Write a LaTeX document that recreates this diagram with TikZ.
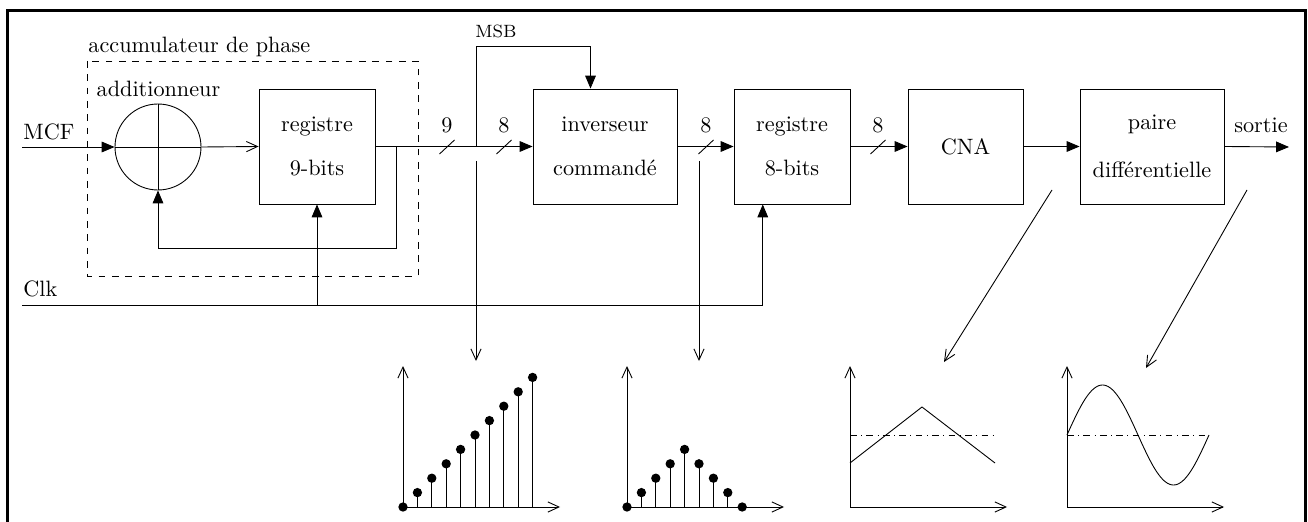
\documentclass[tikz,border=0pt]{standalone}
\usetikzlibrary{arrows.meta,calc}

% petite barre oblique sur un bus
\newcommand{\barre}[1]{\draw (#1-7.5,154) -- (#1+7.5,140);}

\begin{document}
\begin{tikzpicture}[x=0.45pt,y=-0.45pt,
  boite/.style={draw,minimum height=51.75pt,inner sep=0pt,align=center},
  fleche/.style={-{Triangle[length=5.8pt,width=4.8pt]}},
  ouvert/.style={-{Straight Barb[length=5pt,width=4.6pt]}},
  texte/.style={inner sep=0pt,anchor=base west}]
\useasboundingbox (0,0) rectangle (1308,522);
%cadre
\draw[line width=1.35pt] (7,526) -- (7,10.5) -- (1305,10.5) -- (1305,526);

%accumulateur de phase
\draw[dashed] (87,61) rectangle (418,276);
\node[texte] (acc) at (88,53) {accumulateur de phase};
\node[draw,circle,minimum size=38.7pt,inner sep=0pt] (add) at (158,147) {};
\draw (add.north) -- (add.south) (add.west) -- (add.east);
\node[inner sep=0pt,anchor=base] (ladd) at (158.5,97) {additionneur};
\node[boite,minimum width=52.2pt] (reg9) at (317,146.5) {registre\\[7.8pt]9-bits};

%blocs de la chaine
\node[boite,minimum width=64.8pt] (inv) at (605,146.5) {inverseur\\[7.8pt]command\'e};
\node[boite,minimum width=52.2pt] (reg8) at (792,146.5) {registre\\[7.8pt]8-bits};
\node[boite,minimum width=51.75pt] (cna) at (965.5,146.5) {CNA};
\node[boite,minimum width=64.8pt] (paire) at (1152,146.5) {paire\\[9.5pt]diff\'erentielle};

%entrees
\coordinate (mcf) at (22,147);
\node[texte] (lmcf) at (23,140) {MCF};
\draw[fleche] (mcf) -- (add.west);
\draw[ouvert] (add.east) -- (reg9.west);
\draw[fleche] (396,147) -- (396,248) -| (add.south);
\coordinate (clk) at (22,305);
\node[texte] (lclk) at (23,297) {Clk};
\draw[fleche] (clk) -| ($(reg8.south west)!.25!(reg8.south east)$);
\draw[fleche] (reg9.south |- clk) -- (reg9.south);

%bus
\draw[fleche] (reg9.east) -- (inv.west);
\barre{447} \barre{504}
\node[anchor=base] (n9) at (447,133) {9};
\node[anchor=base] (n8a) at (504,133) {8};
\coordinate (msb) at (476,147);
\draw[fleche] (msb) -- (476,46) -| ($(inv.north west)!.4!(inv.north east)$);
\node[texte,font=\footnotesize] (lmsb) at (475,38) {MSB};
\draw[fleche] (inv.east) -- (reg8.west);
\barre{706}
\node[anchor=base] (n8b) at (706,133) {8};
\draw[fleche] (reg8.east) -- (cna.west);
\barre{878}
\node[anchor=base] (n8c) at (878,133) {8};
\draw[fleche] (cna.east) -- (paire.west);
\coordinate (sortie) at (1289,147);
\draw[fleche] (paire.east) -- (sortie);
\node[anchor=base] (lsortie) at (1261,133) {sortie};

%sondes
\draw[ouvert] (476,161) -- (476,361);
\draw[ouvert] (699,161) -- (699,361);
\draw[ouvert] (1052,190) -- (944,362);
\draw[ouvert] (1247,190) -- (1146,368);

%rampe
\draw[ouvert] (403,507) -- (403,366);
\draw[ouvert] (403,507) -- (560,507);
\foreach \k in {0,...,9} {
  \draw (403+14.4*\k,507) -- (403+14.4*\k,507-14.4*\k);
  \fill (403+14.4*\k,507-14.4*\k) circle (2.1pt);
}

%rampe repliee
\draw[ouvert] (627,507) -- (627,366);
\draw[ouvert] (627,507) -- (784,507);
\foreach \k/\h in {0/0,1/1,2/2,3/3,4/4,5/3,6/2,7/1,8/0} {
  \draw (627+14.4*\k,507) -- (627+14.4*\k,507-14.4*\h);
  \fill (627+14.4*\k,507-14.4*\h) circle (2.1pt);
}

%triangle
\draw[ouvert] (850,507) -- (850,366);
\draw[ouvert] (850,507) -- (1007,507);
\draw[dash dot] (850,435) -- (995,435);
\draw (850,463) -- (922,407) -- (995,463);

%sinus
\draw[ouvert] (1067,507) -- (1067,366);
\draw[ouvert] (1067,507) -- (1224,507);
\draw[dash dot] (1067,435) -- (1209,435);
\draw[domain=0:142,samples=80,smooth] plot ({1067+\x},{435-50*sin(\x/142*360)});
\end{tikzpicture}
\end{document}
